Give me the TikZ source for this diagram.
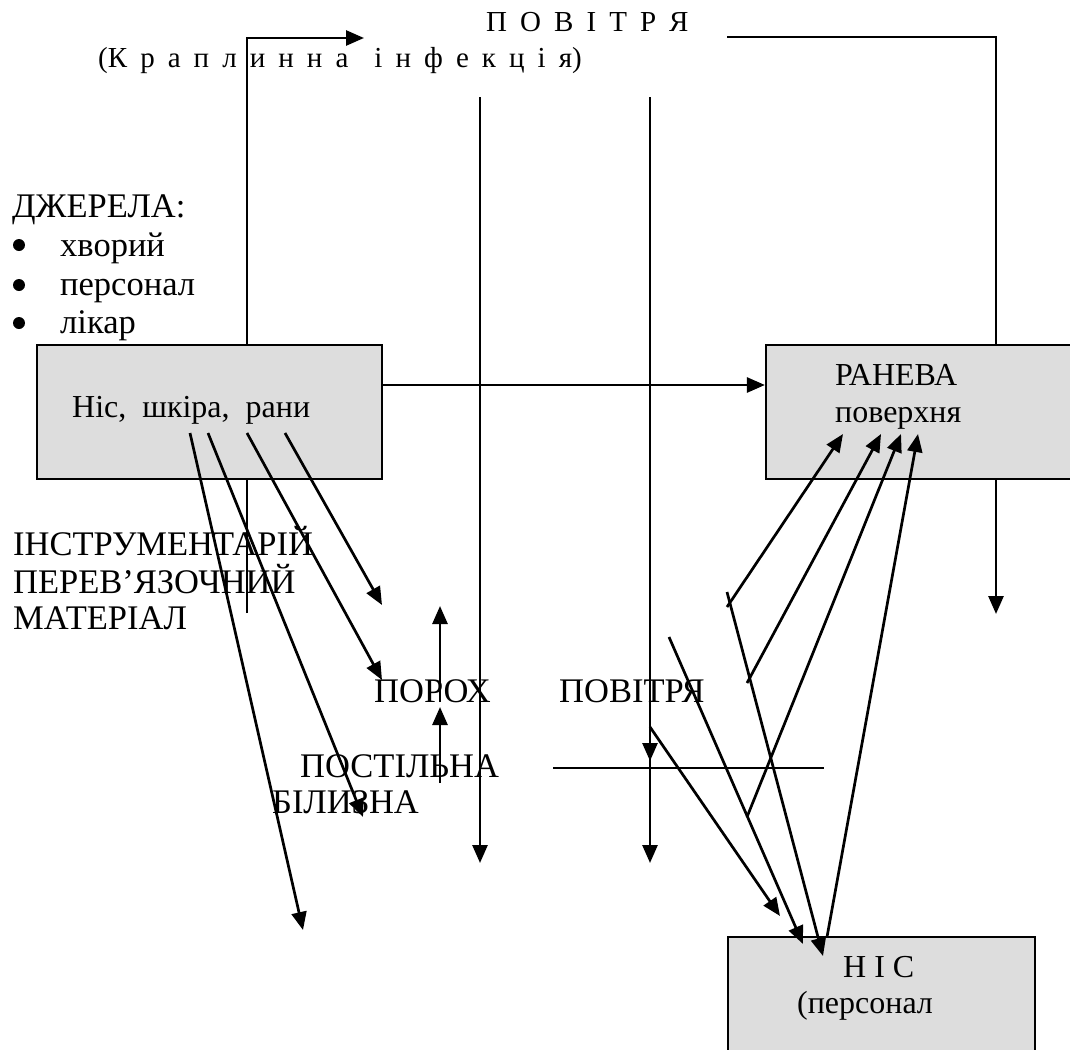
\documentclass[tikz,border=0pt]{standalone}
\usepackage{fontspec}
\setmainfont{Liberation Serif}
\newfontfamily\widef[WordSpace=1.8]{Liberation Serif}
\usetikzlibrary{arrows.meta,backgrounds}
\definecolor{boxgray}{HTML}{DDDDDD}
\begin{document}
\begin{tikzpicture}[x=1pt,y=-1pt,
  box/.style={draw, line width=2.2pt, fill=boxgray, inner sep=0, rectangle},
  lab/.style={font=\fontsize{32}{34}\selectfont, inner sep=0, anchor=base west},
  biglab/.style={font=\fontsize{34.5}{36}\selectfont, inner sep=0, anchor=base west},
  toplab/.style={font=\fontsize{29}{31}\selectfont\widef, inner sep=0, anchor=base west},
  dot/.style={circle, fill=black, inner sep=0, minimum size=12pt},
  ln/.style={line width=2.7pt},
  arr/.style={ln, -{Triangle[length=18pt,width=15pt]}},
]
\useasboundingbox (0,0) rectangle (1070,1049);

% boxes
\node[box, minimum width=345pt, minimum height=134pt] (src) at (209.5,412) {};
\node[box, minimum width=314pt, minimum height=134pt] (wound) at (923,412) {};
\node[box, minimum width=307pt, minimum height=123pt] (nis) at (881.5,998.5) {};

% texts
\node[toplab] (air) at (486,32) {П О В І Т Р Я};
\node[toplab] (drop) at (98,67) {(К р а п л и н н а~~і н ф е к ц і я)};
\node[biglab] (srcs) at (12,217) {ДЖЕРЕЛА:};
\node[dot] (b1) at (19,245) {};
\node[dot] (b2) at (19,285) {};
\node[dot] (b3) at (19,323) {};
\node[biglab] (t1) at (60,256) {хворий};
\node[biglab] (t2) at (60,295) {персонал};
\node[biglab] (t3) at (60,333) {лікар};
\node[lab] (srct) at (72,417) {Ніс,\ \ шкіра,\ \ рани};
\node[biglab] (i1) at (13,555) {ІНСТРУМЕНТАРІЙ};
\node[biglab] (i2) at (13,593) {ПЕРЕВ’ЯЗОЧНИЙ};
\node[biglab] (i3) at (13,629) {МАТЕРІАЛ};
\node[biglab] (dust) at (374,702) {ПОРОХ};
\node[biglab] (air2) at (559,702) {ПОВІТРЯ};
\node[biglab] (bed1) at (300,777) {ПОСТІЛЬНА};
\node[biglab] (bed2) at (272,813) {БІЛИЗНА};
\node[lab] (w1) at (835,385) {РАНЕВА};
\node[lab] (w2) at (835,422) {поверхня};
\node[lab] (n1) at (843,977) {Н І С};
\node[lab] (n2) at (797,1013) {(персонал};

% coordinates
\coordinate (s1) at (285,433); \coordinate (e1) at (382,605);
\coordinate (s2) at (247,433); \coordinate (e2) at (382,680);
\coordinate (s3) at (208,433); \coordinate (e3) at (363,817);
\coordinate (s4) at (190,433); \coordinate (e4) at (303,930);
\coordinate (u1) at (440,783); \coordinate (u1e) at (440,707);
\coordinate (u2) at (440,702); \coordinate (u2e) at (440,606);
\coordinate (v1) at (480,97);  \coordinate (v1e) at (480,863);
\coordinate (v2) at (650,97);  \coordinate (v2m) at (650,761); \coordinate (v2n) at (650,752); \coordinate (v2e) at (650,863);
\coordinate (h1) at (553,768); \coordinate (h1e) at (824,768);
\coordinate (p1) at (650,727); \coordinate (p1e) at (780,916);
\coordinate (p2) at (669,637); \coordinate (p2e) at (803,944);
\coordinate (p3) at (727,592); \coordinate (p3e) at (823,956);
\coordinate (q1) at (727,607); \coordinate (q1e) at (843,434);
\coordinate (q2) at (747,683); \coordinate (q2e) at (881,434);
\coordinate (q3) at (747,817); \coordinate (q3e) at (901,434);
\coordinate (q4) at (827,937); \coordinate (q4e) at (918,434);
\coordinate (tl) at (247,613); \coordinate (tlc) at (247,38); \coordinate (tle) at (364,38);
\coordinate (tr) at (727,37); \coordinate (trc) at (996,37);
\coordinate (rd) at (996,614);

% lines passing behind boxes
\begin{scope}[on background layer]
\draw[arr] (tl) -- (tlc) -- (tle);
\draw[ln] (tr) -- (trc) -- (trc |- wound.north);
\end{scope}
\draw[arr] (wound.south -| trc) -- (rd);
\draw[arr] (src.east |- 0,385) -- (wound.west |- 0,385);

% arrows from source
\draw[arr] (s1) -- (e1);
\draw[arr] (s2) -- (e2);
\draw[arr] (s3) -- (e3);
\draw[arr] (s4) -- (e4);
\draw[arr] (u1) -- (u1e);
\draw[arr] (u2) -- (u2e);
\draw[arr] (v1) -- (v1e);
\draw[arr] (v2) -- (v2m);
\draw[arr] (v2n) -- (v2e);
\draw[ln] (h1) -- (h1e);
\draw[arr] (p1) -- (p1e);
\draw[arr] (p2) -- (p2e);
\draw[arr] (p3) -- (p3e);
\draw[arr] (q1) -- (q1e);
\draw[arr] (q2) -- (q2e);
\draw[arr] (q3) -- (q3e);
\draw[arr] (q4) -- (q4e);
\end{tikzpicture}
\end{document}
